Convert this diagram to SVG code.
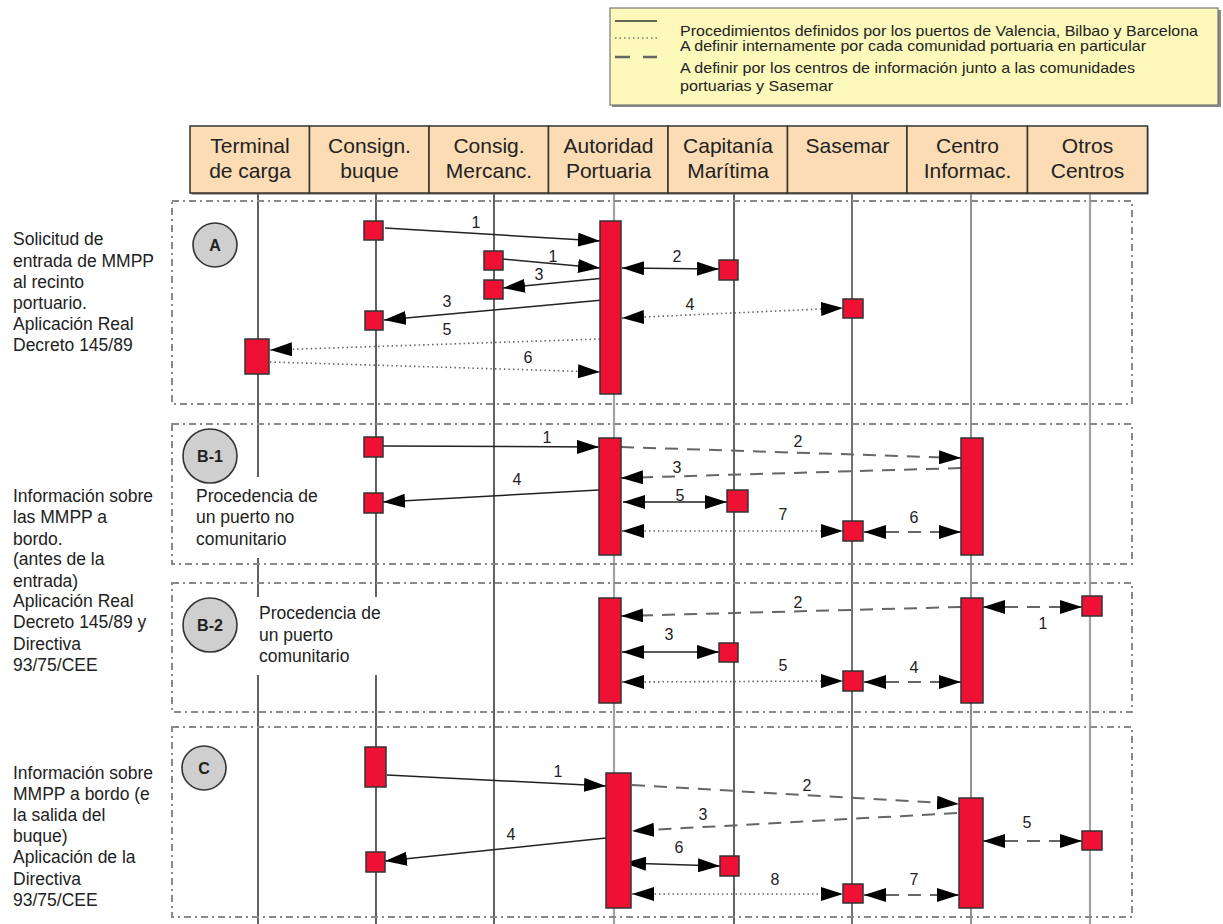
<svg xmlns="http://www.w3.org/2000/svg" width="1223" height="924" viewBox="0 0 1223 924">
<style>
  text { font-family: "Liberation Sans", Arial, sans-serif; fill: #222; }
  .hdr { fill: #fbdcb4; stroke: #333; stroke-width: 1.5; }
  .ht { font-size: 21px; text-anchor: middle; }
  .life { stroke: #3a3a3a; stroke-width: 1.6; fill: none; }
  .life-lt { stroke: #a3a3a3; stroke-width: 2.2; fill: none; }
  .sec { fill: none; stroke: #8a8a8a; stroke-width: 2; stroke-dasharray: 7 4 2 4; }
  .act { fill: #ee1133; stroke: #333; stroke-width: 1.5; }
  .solid { stroke: #222; stroke-width: 1.5; fill: none; }
  .dot { stroke: #666; stroke-width: 1.6; stroke-dasharray: 1.5 3; fill: none; }
  .dash { stroke: #666; stroke-width: 2; stroke-dasharray: 13 9; fill: none; }
  .end { marker-end: url(#ah); }
  .both { marker-start: url(#ah); marker-end: url(#ah); }
  .num { font-size: 16px; text-anchor: middle; }
  .lbl { font-size: 17.5px; }
  .badge circle { fill: #cfcfcf; stroke: #333; stroke-width: 1.6; }
  .badge text { font-size: 16px; font-weight: bold; text-anchor: middle; }
  .leg { font-size: 15px; }
</style>
<defs>
  <marker id="ah" markerUnits="userSpaceOnUse" markerWidth="22" markerHeight="14" refX="22" refY="7" orient="auto-start-reverse" viewBox="0 0 22 14">
    <path d="M0,0 L22,7 L0,14 Z" fill="#000"/>
  </marker>
</defs>

<!-- legend -->
<g id="legend">
  <rect x="612" y="10" width="609" height="97" fill="#8a8a8a"/>
  <rect x="610" y="8" width="608" height="97" fill="#fcf9bb" stroke="#777" stroke-width="1.2"/>
  <line x1="615" y1="21" x2="657" y2="21" stroke="#333" stroke-width="1.3"/>
  <line x1="615" y1="38" x2="657" y2="38" stroke="#777" stroke-width="1.3" stroke-dasharray="1.5 3"/>
  <line x1="615" y1="57" x2="657" y2="57" stroke="#666" stroke-width="2.5" stroke-dasharray="15 13"/>
  <text class="leg" x="680" y="36" textLength="518" lengthAdjust="spacingAndGlyphs">Procedimientos definidos por los puertos de Valencia, Bilbao y Barcelona</text>
  <text class="leg" x="680" y="51" textLength="466" lengthAdjust="spacingAndGlyphs">A definir internamente por cada comunidad portuaria en particular</text>
  <text class="leg" x="680" y="73" textLength="455" lengthAdjust="spacingAndGlyphs">A definir por los centros de información junto a las comunidades</text>
  <text class="leg" x="680" y="91" textLength="153" lengthAdjust="spacingAndGlyphs">portuarias y Sasemar</text>
</g>

<!-- lifelines -->
<g id="lifelines">
  <path class="life" stroke="#555" d="M258,193 V477 M258,558 V597 M258,675 V924"/>
  <path class="life" d="M376,193 V597 M376,675 V924"/>
  <path class="life" d="M494,193 V924"/>
  <path class="life-lt" d="M614,193 V924"/>
  <path class="life" d="M734,193 V924"/>
  <path class="life" style="stroke:#505050" d="M852,193 V924"/>
  <path class="life" style="stroke:#777" d="M971,193 V924"/>
  <path class="life-lt" d="M1090,193 V924"/>
</g>

<!-- header boxes -->
<g id="headers">
  <rect x="191.5" y="127.5" width="957" height="67" fill="#666"/>
  <g id="h-terminal"><rect class="hdr" x="190" y="126" width="119.5" height="67"/><text class="ht" x="250" y="153">Terminal</text><text class="ht" x="250" y="178">de carga</text></g>
  <g id="h-consign"><rect class="hdr" x="309.5" y="126" width="119.5" height="67"/><text class="ht" x="369.5" y="153">Consign.</text><text class="ht" x="369.5" y="178">buque</text></g>
  <g id="h-mercanc"><rect class="hdr" x="429" y="126" width="119.5" height="67"/><text class="ht" x="489" y="153">Consig.</text><text class="ht" x="489" y="178">Mercanc.</text></g>
  <g id="h-autoridad"><rect class="hdr" x="548.5" y="126" width="119.5" height="67"/><text class="ht" x="608.5" y="153">Autoridad</text><text class="ht" x="608.5" y="178">Portuaria</text></g>
  <g id="h-capitania"><rect class="hdr" x="668" y="126" width="119.5" height="67"/><text class="ht" x="728" y="153">Capitanía</text><text class="ht" x="728" y="178">Marítima</text></g>
  <g id="h-sasemar"><rect class="hdr" x="787.5" y="126" width="119.5" height="67"/><text class="ht" x="847.5" y="153">Sasemar</text></g>
  <g id="h-centro"><rect class="hdr" x="907" y="126" width="120.5" height="67"/><text class="ht" x="967.5" y="153">Centro</text><text class="ht" x="967.5" y="178">Informac.</text></g>
  <g id="h-otros"><rect class="hdr" x="1027.5" y="126" width="120" height="67"/><text class="ht" x="1087.5" y="153">Otros</text><text class="ht" x="1087.5" y="178">Centros</text></g>
</g>

<!-- phase frames -->
<g id="frames">
  <rect class="sec" x="172" y="201" width="960" height="203"/>
  <rect class="sec" x="172" y="424" width="960" height="140"/>
  <rect class="sec" x="172" y="583" width="960" height="129"/>
  <rect class="sec" x="172" y="727" width="960" height="190"/>
</g>

<!-- phase descriptions -->
<g id="desc-A">
  <text class="lbl" x="13" y="245">Solicitud de</text>
  <text class="lbl" x="13" y="267">entrada de MMPP</text>
  <text class="lbl" x="13" y="288">al recinto</text>
  <text class="lbl" x="13" y="309">portuario.</text>
  <text class="lbl" x="13" y="330">Aplicación Real</text>
  <text class="lbl" x="13" y="351">Decreto 145/89</text>
</g>
<g id="desc-B">
  <text class="lbl" x="13" y="502">Información sobre</text>
  <text class="lbl" x="13" y="523">las MMPP a</text>
  <text class="lbl" x="13" y="545">bordo.</text>
  <text class="lbl" x="13" y="565">(antes de la</text>
  <text class="lbl" x="13" y="587">entrada)</text>
  <text class="lbl" x="13" y="607">Aplicación Real</text>
  <text class="lbl" x="13" y="628">Decreto 145/89  y</text>
  <text class="lbl" x="13" y="650">Directiva</text>
  <text class="lbl" x="13" y="671">93/75/CEE</text>
</g>
<g id="desc-C">
  <text class="lbl" x="13" y="779">Información sobre</text>
  <text class="lbl" x="13" y="800">MMPP a bordo (e</text>
  <text class="lbl" x="13" y="821">la salida del</text>
  <text class="lbl" x="13" y="842">buque)</text>
  <text class="lbl" x="13" y="863">Aplicación de la</text>
  <text class="lbl" x="13" y="885">Directiva</text>
  <text class="lbl" x="13" y="906">93/75/CEE</text>
</g>
<g id="note-B1">
  <text class="lbl" x="196" y="502">Procedencia de</text>
  <text class="lbl" x="196" y="523">un puerto no</text>
  <text class="lbl" x="196" y="545">comunitario</text>
</g>
<g id="note-B2">
  <text class="lbl" x="259" y="619">Procedencia de</text>
  <text class="lbl" x="259" y="641">un puerto</text>
  <text class="lbl" x="259" y="662">comunitario</text>
</g>

<!-- phase badges -->
<g id="badge-A" class="badge"><circle cx="215" cy="245" r="22"/><text x="215" y="251">A</text></g>
<g id="badge-B1" class="badge"><circle cx="210" cy="456" r="27"/><text x="210" y="462">B-1</text></g>
<g id="badge-B2" class="badge"><circle cx="210" cy="625" r="27"/><text x="210" y="631">B-2</text></g>
<g id="badge-C" class="badge"><circle cx="204" cy="768" r="22"/><text x="204" y="774">C</text></g>

<!-- messages -->
<g id="connectors">
  <!-- A -->
  <path class="solid end" d="M385,228 L600,241"/>
  <path class="solid end" d="M503,259 L600,268"/>
  <path class="solid end" d="M605,278 L503,288"/>
  <path class="solid end" d="M603,300 L384,320"/>
  <path class="solid both" d="M622,268 L719,269"/>
  <path class="dot both" d="M622,318 L843,308"/>
  <path class="dot end" d="M600,339 L270,350"/>
  <path class="dot end" d="M270,362 L600,372"/>
  <!-- B-1 -->
  <path class="solid end" d="M383,446 L599,447"/>
  <path class="dash end" d="M621,447 L961,458"/>
  <path class="dash end" d="M961,468 L621,478"/>
  <path class="solid end" d="M599,490 L383,502"/>
  <path class="solid both" d="M623,502 L727,502"/>
  <path class="dot both" d="M622,531 L843,531"/>
  <path class="dash both" d="M864,532 L961,532"/>
  <!-- B-2 -->
  <path class="dash end" d="M961,607 L621,616"/>
  <path class="dash both" d="M983,607 L1082,607"/>
  <path class="solid both" d="M622,652 L719,652"/>
  <path class="dot both" d="M622,682 L843,681"/>
  <path class="dash both" d="M864,682 L961,682"/>
  <!-- C -->
  <path class="solid end" d="M387,775 L606,786"/>
  <path class="dash end" d="M632,785 L959,804"/>
  <path class="dash end" d="M957,813 L632,831"/>
  <path class="solid end" d="M606,838 L385,861"/>
  <path class="solid both" d="M624,863 L720,866"/>
  <path class="dot both" d="M632,894 L843,894"/>
  <path class="dash both" d="M864,895 L959,895"/>
  <path class="dash both" d="M983,841 L1082,841"/>
</g>

<!-- message numbers -->
<g id="numbers">
  <text class="num" x="476" y="228">1</text>
  <text class="num" x="553" y="262">1</text>
  <text class="num" x="539" y="280">3</text>
  <text class="num" x="447" y="307">3</text>
  <text class="num" x="677" y="262">2</text>
  <text class="num" x="690" y="310">4</text>
  <text class="num" x="447" y="335">5</text>
  <text class="num" x="528" y="363">6</text>

  <text class="num" x="547" y="443">1</text>
  <text class="num" x="798" y="447">2</text>
  <text class="num" x="677" y="473">3</text>
  <text class="num" x="517" y="485">4</text>
  <text class="num" x="680" y="501">5</text>
  <text class="num" x="783" y="520">7</text>
  <text class="num" x="914" y="523">6</text>

  <text class="num" x="798" y="608">2</text>
  <text class="num" x="1043" y="629">1</text>
  <text class="num" x="669" y="640">3</text>
  <text class="num" x="783" y="671">5</text>
  <text class="num" x="914" y="673">4</text>

  <text class="num" x="558" y="777">1</text>
  <text class="num" x="807" y="791">2</text>
  <text class="num" x="703" y="820">3</text>
  <text class="num" x="511" y="840">4</text>
  <text class="num" x="679" y="853">6</text>
  <text class="num" x="775" y="885">8</text>
  <text class="num" x="914" y="885">7</text>
  <text class="num" x="1027" y="828">5</text>
</g>

<!-- activations -->
<g id="act-A">
  <rect class="act" x="364" y="221" width="19" height="19"/>
  <rect class="act" x="600" y="221" width="21" height="173"/>
  <rect class="act" x="484" y="251" width="19" height="19"/>
  <rect class="act" x="484" y="280" width="19" height="19"/>
  <rect class="act" x="365" y="311" width="18" height="19"/>
  <rect class="act" x="245" y="339" width="24" height="35"/>
  <rect class="act" x="719" y="260" width="19" height="20"/>
  <rect class="act" x="843" y="299" width="20" height="19"/>
</g>
<g id="act-B1">
  <rect class="act" x="364" y="437" width="19" height="20"/>
  <rect class="act" x="599" y="438" width="22" height="117"/>
  <rect class="act" x="364" y="493" width="19" height="20"/>
  <rect class="act" x="727" y="490" width="21" height="22"/>
  <rect class="act" x="843" y="521" width="20" height="20"/>
  <rect class="act" x="961" y="438" width="22" height="117"/>
</g>
<g id="act-B2">
  <rect class="act" x="599" y="598" width="22" height="105"/>
  <rect class="act" x="719" y="643" width="19" height="19"/>
  <rect class="act" x="843" y="671" width="20" height="20"/>
  <rect class="act" x="961" y="598" width="22" height="105"/>
  <rect class="act" x="1082" y="596" width="20" height="20"/>
</g>
<g id="act-C">
  <rect class="act" x="365" y="747" width="21" height="40"/>
  <rect class="act" x="606" y="773" width="25" height="135"/>
  <rect class="act" x="366" y="852" width="19" height="20"/>
  <rect class="act" x="720" y="856" width="19" height="20"/>
  <rect class="act" x="843" y="884" width="20" height="19"/>
  <rect class="act" x="959" y="798" width="24" height="110"/>
  <rect class="act" x="1082" y="831" width="20" height="19"/>
</g>
</svg>
